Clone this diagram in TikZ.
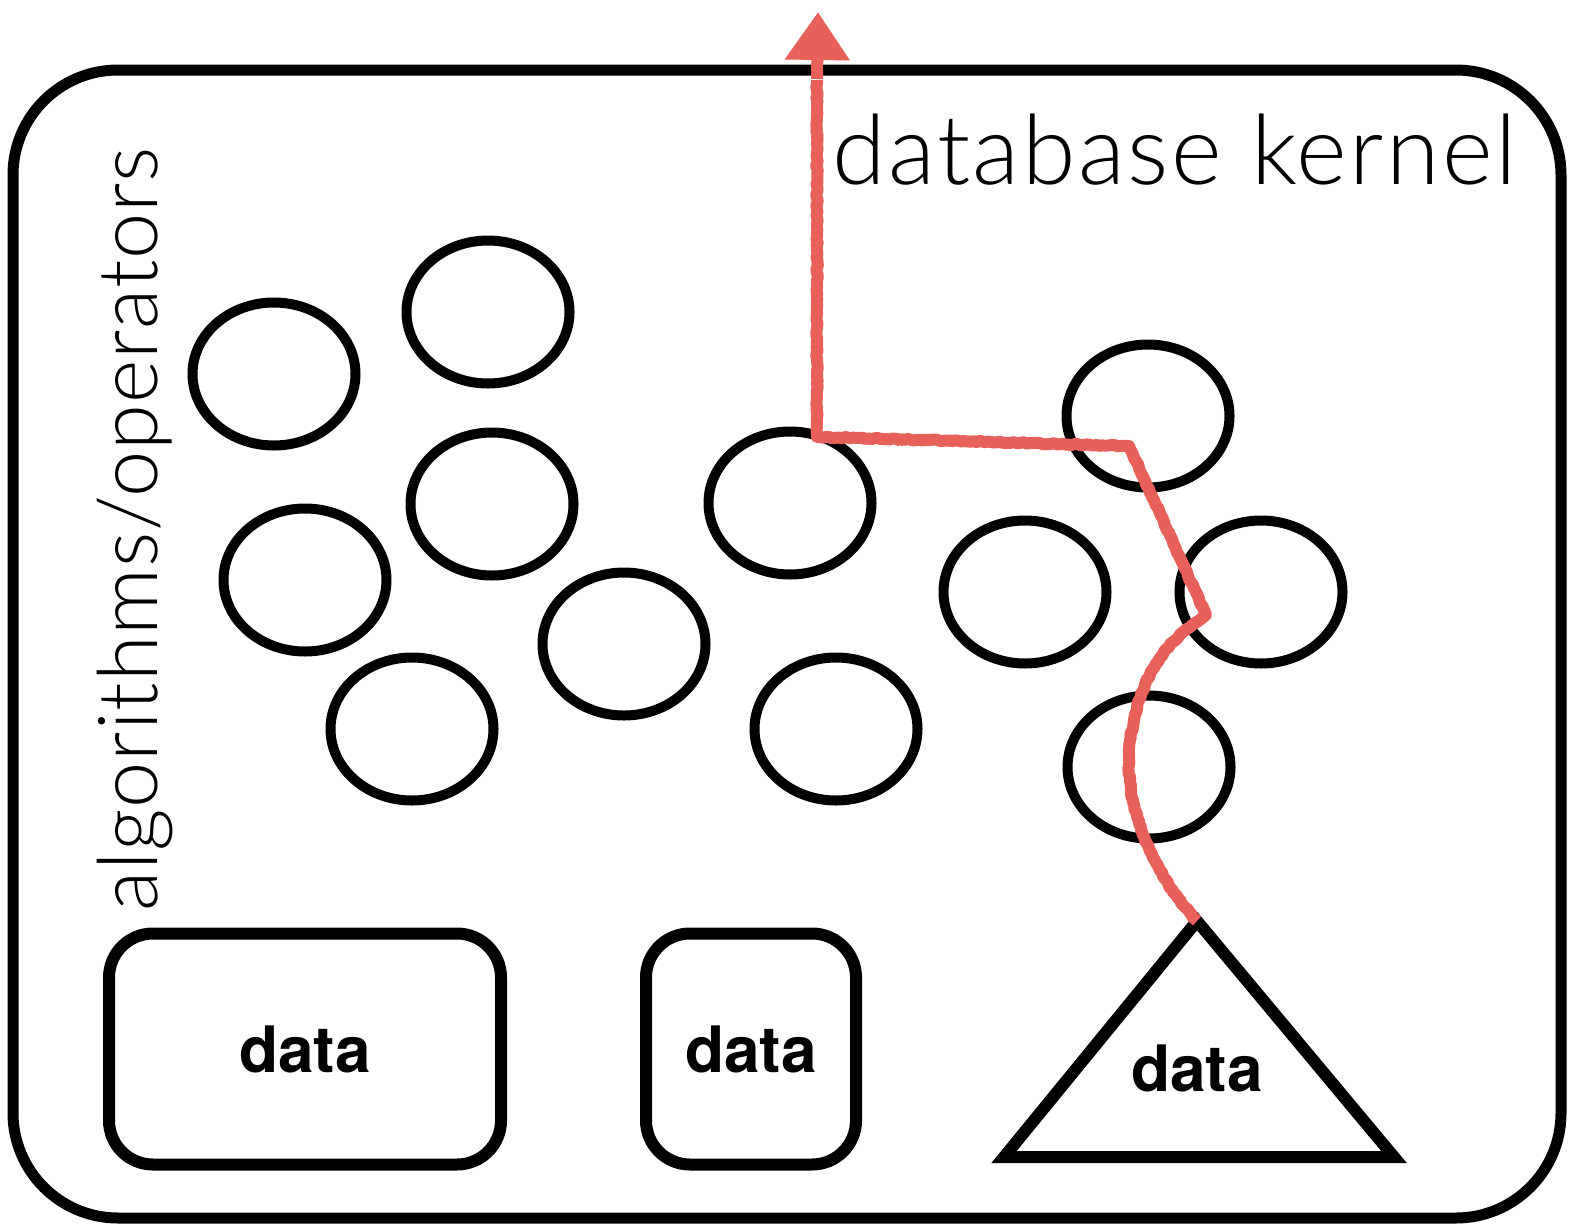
\documentclass[tikz,border=0pt]{standalone}
\usepackage{fontspec}
\setmainfont{TeX Gyre Heros}
\newfontfamily\titlefont{Lato Light}[LetterSpace=2.6]
\newfontfamily\sidefont{Lato Light}[LetterSpace=1.2]
\usetikzlibrary{shapes.geometric,arrows.meta,decorations.pathmorphing}
\definecolor{pathred}{HTML}{E8605A}
\begin{document}
\begin{tikzpicture}[x=1pt,y=-1pt,
  op/.style={draw=black,line width=10pt,ellipse,minimum width=163pt,minimum height=143pt,inner sep=0pt},
  store/.style={draw=black,line width=12pt,rounded corners=44pt,inner sep=0pt,font=\fontsize{64}{64}\selectfont\bfseries},
  flow/.style={draw=pathred,line width=12pt,line join=round,
    decorate,decoration={random steps,segment length=3pt,amplitude=0.8pt}}]
\useasboundingbox (0,0) rectangle (1572,1229);
% kernel boundary
\node[draw=black,line width=11pt,rounded corners=105pt,minimum width=1548pt,minimum height=1148pt,inner sep=0pt]
  (kernel) at (787,644) {};
\node[anchor=base west,font=\titlefont\fontsize{97}{97}\selectfont,inner sep=0pt] (ktitle) at (832,184) {database kernel};
\node[anchor=base west,rotate=90,font=\sidefont\fontsize{83}{83}\selectfont,inner sep=0pt] (otitle) at (157,912) {algorithms/operators};
% operators
\node[op] (o1) at (274,374) {};
\node[op] (o2) at (488,312) {};
\node[op] (o3) at (492,504) {};
\node[op] (o4) at (305,580) {};
\node[op] (o5) at (624,644) {};
\node[op] (o6) at (412,729) {};
\node[op] (o7) at (790,503) {};
\node[op] (o8) at (836,729) {};
\node[op] (o9) at (1148,416) {};
\node[op] (o10) at (1025,592) {};
\node[op] (o11) at (1261,592) {};
\node[op] (o12) at (1149,767) {};
% data stores
\node[store,minimum width=392pt,minimum height=231pt] (d1) at (305,1049) {\raisebox{-4pt}{data}};
\node[store,minimum width=210pt,minimum height=231pt] (d2) at (751,1049) {\raisebox{-4pt}{data}};
\coordinate (tapex) at (1197,921);
\coordinate (tleft) at (1004,1157);
\coordinate (tright) at (1394,1157);
\draw[line width=12pt,line join=miter] (tapex) -- (tleft) -- (tright) -- cycle;
\node[font=\fontsize{64}{64}\selectfont\bfseries,inner sep=0pt] (d3) at (1197,1068) {data};
% query path
\coordinate (out) at (818,12);
\coordinate (turn) at (817,437);
\coordinate (bend) at (1129,446);
\coordinate (kink) at (1206,615);
\draw[flow] (tapex) .. controls (1150,870) and (1122,800) .. (1130,740)
  .. controls (1140,680) and (1160,650) .. (1190,627) -- (kink) -- (bend) -- (turn) -- (817,80);
\draw[pathred,line width=12pt,-{Triangle[width=62pt,length=48pt]}] (817,79) -- (out);
\end{tikzpicture}
\end{document}
